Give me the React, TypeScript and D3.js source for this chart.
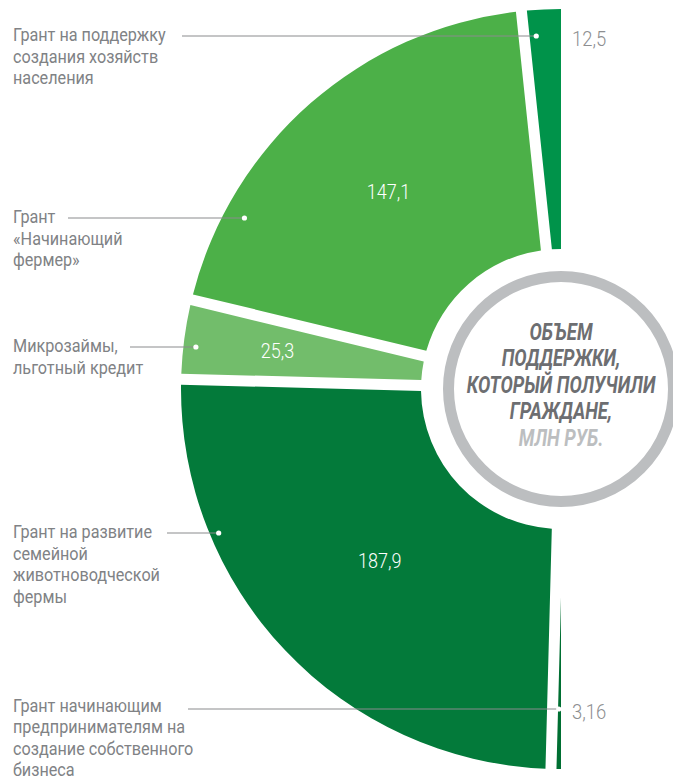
import React from "react";
import * as d3 from "d3";

const categories: string[][] = [
  ["Грант на поддержку", "создания хозяйств", "населения"],
  ["Грант", "«Начинающий", "фермер»"],
  ["Микрозаймы,", "льготный кредит"],
  ["Грант на развитие", "семейной", "животноводческой", "фермы"],
  ["Грант начинающим", "предпринимателям на", "создание собственного", "бизнеса"],
];
const values: number[] = [12.5, 147.1, 25.3, 187.9, 3.16];
const valueLabels: string[] = ["12,5", "147,1", "25,3", "187,9", "3,16"];
const colors: string[] = ["#00934a", "#4cb048", "#72bd6b", "#037a3a", "#006f32"];
const centerTitle: string[] = ["ОБЪЕМ", "ПОДДЕРЖКИ,", "КОТОРЫЙ ПОЛУЧИЛИ", "ГРАЖДАНЕ,"];
const centerUnit = "МЛН РУБ.";

// layout
const W = 673, H = 781;
const cx = 561, cy = 389;
const R = 380, R0 = 140, GAP = 11;
const leaderY = [36, 218, 347, 533, 709];
const labelShift = [-1, -1, -1, -1, -3.5];
const leaderStartX = [182, 68, 130, 167, 188];
const dotFrac = [0.67, 0.79, 0.58, 0.27, 0.73];
const valueR = [0, 262, 286, 250, 0];
const insideValue = [false, true, true, true, false];
const labelFont = "Roboto, 'Noto Sans', sans-serif";
const SX = 0.9; // horizontal condensing of the label font
const CSX = 0.8; // condensing of the centre title
const LH = 21.5;

export default function App() {
  const pie = d3.pie<number>().sort(null).value((d) => d).startAngle(0).endAngle(-Math.PI);
  const arcs = pie(values);
  const arcGen = d3
    .arc<any>()
    .innerRadius(R0)
    .outerRadius(R)
    .padRadius(R)
    .padAngle(GAP / R);
  const n = arcs.length;
  return (
    <svg width={W} height={H} style={{ position: "absolute", left: 0, top: 0, background: "#fff" }}>
      <defs>
        <clipPath id="half">
          <rect x={-cx} y={-cy} width={cx} height={H} />
        </clipPath>
      </defs>
      <g transform={`translate(${cx},${cy})`}>
        <g clipPath="url(#half)">
          {arcs.map((a, i) => {
            const s = i === 0 ? a.startAngle + 0.5 : a.startAngle;
            const e = i === n - 1 ? a.endAngle - 0.5 : a.endAngle;
            return <path key={i} d={arcGen({ startAngle: s, endAngle: e }) || ""} fill={colors[i]} />;
          })}
        </g>
        <circle r={112.5} fill="#fff" stroke="#bcbec0" strokeWidth={11} />
      </g>
      {arcs.map((a, i) => {
        const ang = a.startAngle + dotFrac[i] * (a.endAngle - a.startAngle);
        const y = leaderY[i];
        const x = cx + (cy - y) * Math.tan(ang);
        return (
          <g key={"l" + i}>
            <line x1={leaderStartX[i]} y1={y} x2={x} y2={y} stroke="#8a8b8d" strokeWidth={1} />
            <circle cx={x} cy={y} r={2.6} fill="#fff" />
            <g transform={`translate(13,${y + labelShift[i]}) scale(${SX},1)`}>
              <text x={0} y={0} fontFamily={labelFont} fontSize={18} fill="#808285" dominantBaseline="central">
                {categories[i].map((t, j) => (
                  <tspan key={j} x={0} dy={j === 0 ? 0 : LH}>
                    {t}
                  </tspan>
                ))}
              </text>
            </g>
          </g>
        );
      })}
      {arcs.map((a, i) => {
        if (insideValue[i]) {
          const mid = (a.startAngle + a.endAngle) / 2;
          const x = cx + valueR[i] * Math.sin(mid);
          const y = cy - valueR[i] * Math.cos(mid);
          return (
            <g key={"v" + i} transform={`translate(${x},${y}) scale(${SX},1)`}>
              <text textAnchor="middle" dominantBaseline="central" fontFamily={labelFont} fontWeight={300} fontSize={20} fill="#fff">
                {valueLabels[i]}
              </text>
            </g>
          );
        }
        return (
          <g key={"v" + i} transform={`translate(572,${leaderY[i] + 3}) scale(${SX},1)`}>
            <text dominantBaseline="central" fontFamily={labelFont} fontWeight={300} fontSize={20.5} fill="#8d8e90">
              {valueLabels[i]}
            </text>
          </g>
        );
      })}
      <g fontFamily={labelFont} fontWeight="bold" fontStyle="italic" fontSize={23} textAnchor="middle">
        {centerTitle.map((t, j) => (
          <g key={j} transform={`translate(${cx},${332 + j * 26.5}) scale(${CSX},1)`}>
            <text dominantBaseline="central" fill="#6d6e71">
              {t}
            </text>
          </g>
        ))}
        <g transform={`translate(${cx},${332 + centerTitle.length * 26.5}) scale(${CSX},1)`}>
          <text dominantBaseline="central" fill="#bcbec0">
            {centerUnit}
          </text>
        </g>
      </g>
    </svg>
  );
}
